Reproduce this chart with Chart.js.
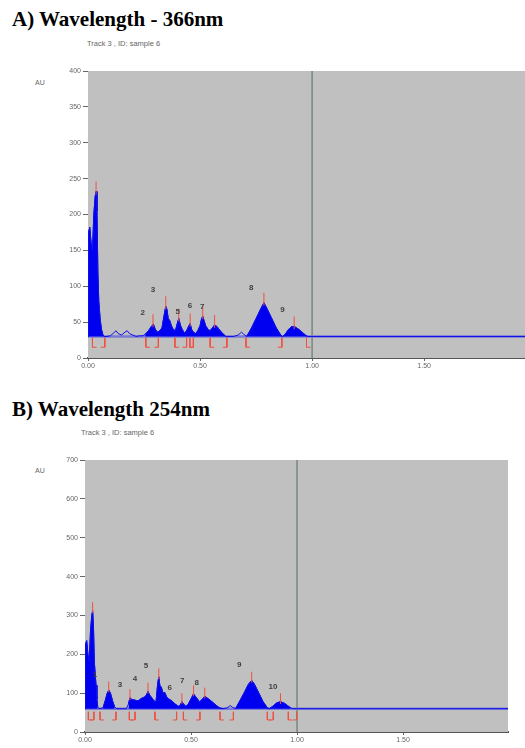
<!DOCTYPE html>
<html><head><meta charset="utf-8">
<script src="https://cdn.jsdelivr.net/npm/chart.js@4.4.1/dist/chart.umd.min.js"></script>
<style>
body{margin:0;background:#fff;width:525px;height:748px;overflow:hidden;position:relative}
.ttl{position:absolute;left:12px;font:bold 21px 'Liberation Serif','Times New Roman',serif;color:#000;white-space:nowrap;line-height:21px}
.trk{position:absolute;font:7.5px 'Liberation Sans',Arial,sans-serif;color:#666;white-space:nowrap;line-height:8px}
.au{position:absolute;left:35px;font:7px 'Liberation Sans',Arial,sans-serif;color:#666;line-height:8px}
canvas{position:absolute;left:0}
</style></head><body>
<div class="ttl" style="top:9px">A) Wavelength - 366nm</div>
<div class="trk" style="left:87px;top:40px">Track 3 , ID: sample 6</div>
<div class="au" style="top:79px">AU</div>
<canvas id="cA" width="525" height="320" style="top:55px"></canvas>
<div class="ttl" style="top:399px">B) Wavelength 254nm</div>
<div class="trk" style="left:81px;top:429px">Track 3 , ID: sample 6</div>
<div class="au" style="top:467px">AU</div>
<canvas id="cB" width="525" height="303" style="top:445px"></canvas>
<script>
// ---------- Panel A: 366 nm ----------
const rfA = [0.000,0.002,0.008,0.014,0.020,0.026,0.032,0.036,0.040,0.044,0.048,0.054,0.060,0.066,0.072,0.085,0.100,0.115,0.125,0.135,0.150,0.165,0.175,0.185,0.200,0.215,0.230,0.245,0.255,0.270,0.285,0.292,0.300,0.310,0.320,0.330,0.340,0.347,0.352,0.358,0.365,0.372,0.380,0.390,0.400,0.405,0.412,0.420,0.430,0.440,0.450,0.456,0.462,0.470,0.480,0.490,0.500,0.507,0.512,0.518,0.525,0.535,0.545,0.555,0.565,0.575,0.585,0.595,0.605,0.615,0.650,0.670,0.685,0.695,0.708,0.730,0.750,0.770,0.785,0.800,0.820,0.840,0.860,0.868,0.880,0.895,0.910,0.925,0.940,0.955,0.970,0.980,1.950];
const auA = [30,175,182,160,150,200,225,232,205,120,80,55,40,33,30,30,31,35,38,34,32,36,38,34,32,30,31,31,33,38,45,47,40,36,38,42,60,72,68,55,52,45,40,38,50,55,46,40,35,38,45,48,40,36,34,38,45,55,58,52,45,40,38,42,46,44,40,36,33,30,30,32,36,33,30,42,55,68,77,68,55,42,32,30,33,40,44,43,40,36,32,30,30];
const baseA = 30;
const integratedA = [[0,0.075],[0.255,0.62],[0.705,0.98]];
const peakRfA = [0.036,0.290,0.347,0.405,0.456,0.512,0.565,0.785,0.920];
const peakAuA = [232,47,72,55,48,58,46,77,44];
const boundsA = [0.020,0.075,0.258,0.314,0.388,0.440,0.455,0.470,0.545,0.620,0.705,0.865,0.975];
const labelTextA = ['2','3','5','6','7','8','9'];
const labelRfA = [0.244,0.290,0.400,0.455,0.510,0.728,0.868];
const labelAuA = [63,95,65,73,71,98,67];
const yTicksA = [0,50,100,150,200,250,300,350,400];

// ---------- Panel B: 254 nm ----------
const rfB = [0.000,0.002,0.008,0.014,0.020,0.026,0.032,0.036,0.040,0.044,0.048,0.052,0.056,0.060,0.066,0.085,0.095,0.105,0.112,0.120,0.130,0.140,0.150,0.195,0.205,0.212,0.220,0.235,0.250,0.265,0.280,0.290,0.297,0.305,0.315,0.325,0.335,0.343,0.348,0.353,0.360,0.368,0.376,0.385,0.395,0.410,0.425,0.440,0.450,0.457,0.465,0.475,0.485,0.500,0.512,0.520,0.530,0.540,0.550,0.565,0.575,0.590,0.605,0.620,0.635,0.650,0.670,0.685,0.695,0.710,0.730,0.750,0.770,0.786,0.800,0.820,0.840,0.860,0.870,0.885,0.905,0.922,0.940,0.955,0.970,0.980,2.000];
const auB = [60,225,235,200,180,260,300,312,270,180,150,120,85,65,60,62,80,100,108,100,80,64,60,60,72,88,84,82,80,86,90,95,105,95,88,80,78,125,142,120,115,100,102,90,85,80,72,66,70,78,72,66,70,85,98,92,85,78,82,92,88,82,75,68,62,60,62,68,64,60,80,100,122,133,122,100,78,62,60,66,75,78,74,68,62,60,60];
const baseB = 60;
const integratedB = [[0,0.065],[0.085,0.145],[0.2,0.66],[0.71,0.975]];
const peakRfB = [0.036,0.112,0.212,0.297,0.348,0.457,0.512,0.565,0.786,0.922];
const peakAuB = [312,108,88,105,142,78,98,92,133,78];
const boundsB = [0.016,0.042,0.071,0.146,0.209,0.236,0.330,0.432,0.464,0.542,0.637,0.700,0.860,0.888,0.959,0.998];
const labelTextB = ['1','3','4','5','6','7','8','9','10'];
const labelRfB = [0.047,0.165,0.236,0.288,0.400,0.458,0.527,0.727,0.887];
const labelAuB = [146,121,136,170,113,132,126,172,117];
const yTicksB = [0,100,200,300,400,500,600,700];

const xTicks = [0,0.5,1,1.5];

function buildChart(id, d, L) {
  const trace = d.rf.map((x,i)=>({x, y:d.au[i]}));
  const filled = d.rf.map((x,i)=>({x, y: d.ranges.some(r=>x>=r[0]&&x<=r[1]) ? d.au[i] : null}));
  const marks = [];
  d.peakRf.forEach((x,i)=>{ marks.push({x,y:d.peakAu[i]-L.pkDown},{x,y:d.peakAu[i]+L.pkUp},{x,y:null}); });
  d.bounds.forEach((x,i)=>{
    const f = (i%2===0)? L.foot : -L.foot;
    marks.push({x,y:d.base-L.bTop},{x,y:d.base-L.bBot},{x:x+f,y:d.base-L.bBot},{x,y:null});
  });
  const yMax = d.yTicks[d.yTicks.length-1];
  const plugin = {
    id:'panel'+id,
    beforeDatasetsDraw(c){
      const a=c.chartArea, g=c.ctx;
      g.save(); g.fillStyle='#c0c0c0'; g.fillRect(a.left,a.top,a.right-a.left,a.bottom-a.top); g.restore();
    },
    afterDatasetsDraw(c){
      const g=c.ctx, sx=c.scales.x, sy=c.scales.y;
      g.save(); g.fillStyle='#404040'; g.font='bold 8px "Liberation Sans", Arial, sans-serif';
      g.textAlign='center'; g.textBaseline='middle';
      d.labelText.forEach((t,i)=>g.fillText(t, sx.getPixelForValue(d.labelRf[i]), sy.getPixelForValue(d.labelAu[i])));
      g.restore();
    }
  };
  return new Chart(document.getElementById(id), {
    type:'line',
    data:{datasets:[
      {data:marks, borderColor:'#f05040', borderWidth:1, spanGaps:false, pointRadius:0, fill:false},
      {data:trace, borderColor:'#1010e8', borderWidth:1, pointRadius:0, fill:false},
      {data:filled, borderColor:'#0000f0', backgroundColor:'#0000f0', borderWidth:1, pointRadius:0, spanGaps:false, fill:{value:d.base}},
      {data:[{x:0,y:d.base},{x:L.xMax,y:d.base}], borderColor:'#7a7ad8', borderWidth:2.5, pointRadius:0, fill:false},
      {data:[{x:1,y:0},{x:1,y:yMax}], borderColor:'#778880', borderWidth:1.5, pointRadius:0, fill:false}
    ]},
    options:{
      responsive:false, animation:false, devicePixelRatio:1,
      layout:{padding:{left:0,top:L.padTop,right:L.padRight,bottom:0}},
      plugins:{legend:{display:false}, tooltip:{enabled:false}},
      elements:{line:{tension:0}},
      scales:{
        x:{type:'linear', min:0, max:L.xMax,
          afterBuildTicks(s){ s.ticks = xTicks.map(v=>({value:v})); },
          afterFit(s){ s.height = L.xH; },
          grid:{drawOnChartArea:false, drawTicks:true, tickLength:3, color:'#666'},
          border:{display:true, color:'#555', width:2},
          ticks:{font:{size:7, family:'"Liberation Sans", Arial, sans-serif'}, color:'#666', padding:1, maxRotation:0,
            callback:v=>Number(v).toFixed(2)}
        },
        y:{type:'linear', min:0, max:yMax,
          afterBuildTicks(s){ s.ticks = d.yTicks.map(v=>({value:v})); },
          afterFit(s){ s.width = L.yW; },
          grid:{drawOnChartArea:false, drawTicks:true, tickLength:5, color:'#666'},
          border:{display:true, color:'#555', width:1},
          ticks:{font:{size:7, family:'"Liberation Sans", Arial, sans-serif'}, color:'#666', padding:2}
        }
      }
    },
    plugins:[plugin]
  });
}

buildChart('cA', {rf:rfA, au:auA, base:baseA, ranges:integratedA, peakRf:peakRfA, peakAu:peakAuA, bounds:boundsA,
  labelText:labelTextA, labelRf:labelRfA, labelAu:labelAuA, yTicks:yTicksA},
  {xMax:1.95, padTop:16, padRight:0, xH:17, yW:88, pkDown:4, pkUp:14, bTop:2, bBot:15, foot:0.018});
buildChart('cB', {rf:rfB, au:auB, base:baseB, ranges:integratedB, peakRf:peakRfB, peakAu:peakAuB, bounds:boundsB,
  labelText:labelTextB, labelRf:labelRfB, labelAu:labelAuB, yTicks:yTicksB},
  {xMax:1.995, padTop:15, padRight:17, xH:16, yW:85, pkDown:6, pkUp:22, bTop:8, bBot:29, foot:0.018});
</script>
</body></html>
